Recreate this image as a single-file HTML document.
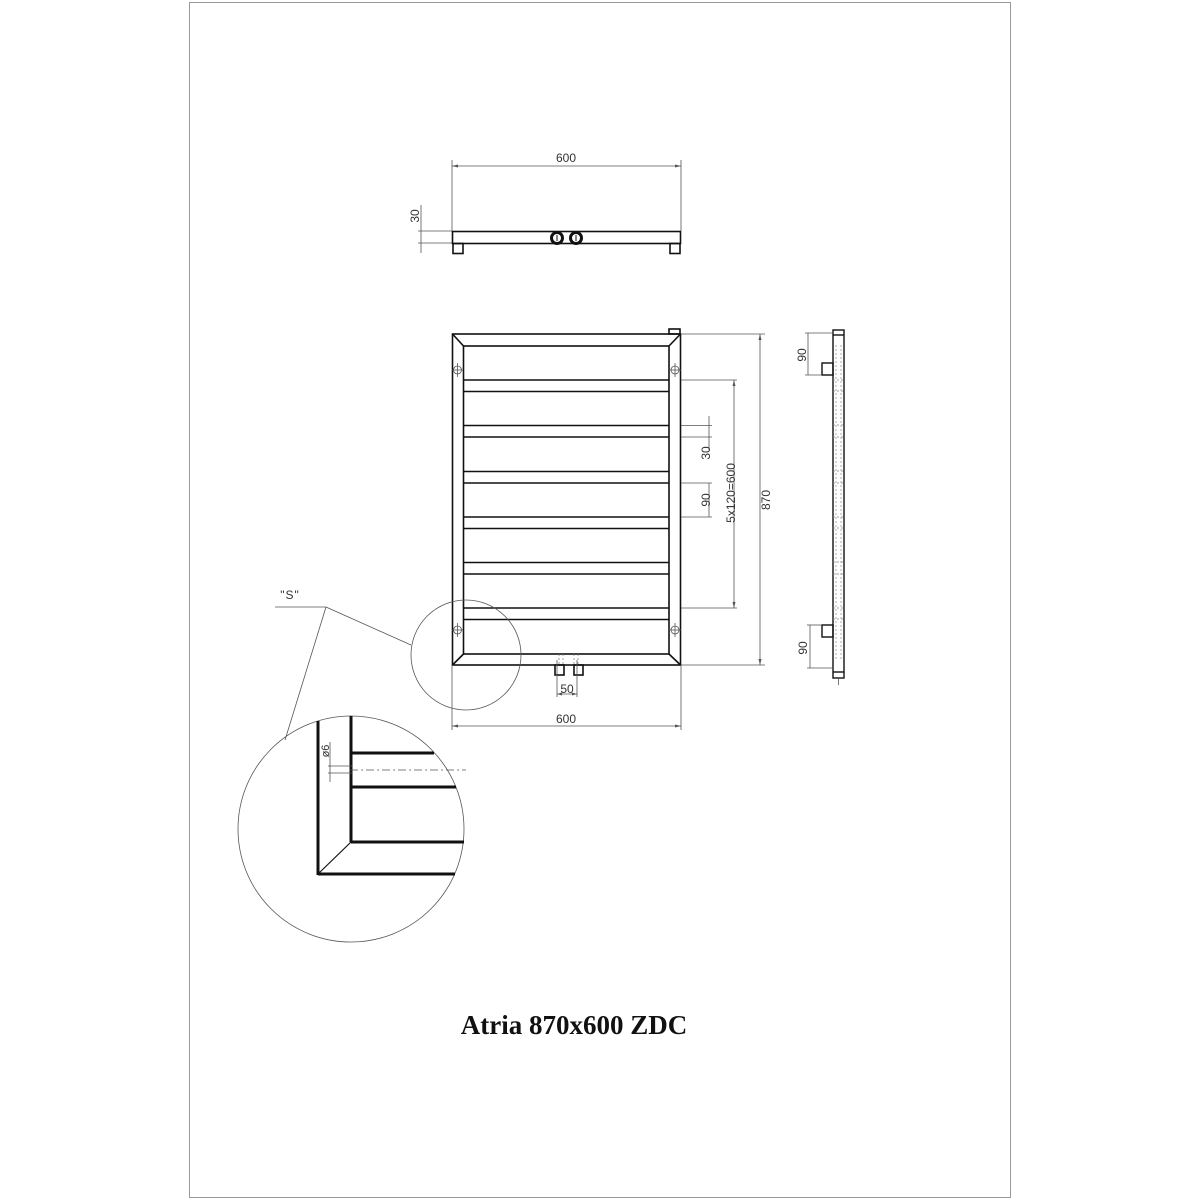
<!DOCTYPE html>
<html><head><meta charset="utf-8"><style>
html,body{margin:0;padding:0;background:#fff;}
svg{display:block;}
text{font-family:"Liberation Sans",sans-serif;fill:#333;}
</style></head><body>
<svg width="1200" height="1200" viewBox="0 0 1200 1200" xmlns="http://www.w3.org/2000/svg">
<rect x="189.5" y="2.5" width="821" height="1195" fill="none" stroke="#999" stroke-width="1"/>

<g stroke="#555" stroke-width="0.8" fill="none">
<line x1="452" y1="160" x2="452" y2="231"/>
<line x1="681" y1="160" x2="681" y2="231"/>
<line x1="452" y1="166" x2="681" y2="166"/>
<line x1="418" y1="231" x2="452" y2="231"/>
<line x1="418" y1="243" x2="452" y2="243"/>
<line x1="421" y1="205" x2="421" y2="253"/>
</g>
<path d="M452,166 l6,-1.5 v3z M681,166 l-6,-1.5 v3z" fill="#555"/>
<text x="566" y="162" font-size="12" text-anchor="middle">600</text>
<text transform="translate(419,216) rotate(-90)" font-size="12" text-anchor="middle">30</text>
<g stroke="#111" stroke-width="1.6" fill="none">
<rect x="452.5" y="231.5" width="228" height="12"/>
<rect x="453" y="243.5" width="10" height="10"/>
<rect x="670" y="243.5" width="10" height="10"/>
</g>
<circle cx="557" cy="238" r="5.5" fill="none" stroke="#111" stroke-width="3"/>
<circle cx="576" cy="238" r="5.5" fill="none" stroke="#111" stroke-width="3"/>
<line x1="557" y1="235" x2="557" y2="241" stroke="#111" stroke-width="1"/>
<line x1="576" y1="235" x2="576" y2="241" stroke="#111" stroke-width="1"/>

<g stroke="#111" stroke-width="1.6" fill="none">
<rect x="452.5" y="334" width="228" height="331"/>
<rect x="463.5" y="346" width="205.5" height="308"/>
<line x1="452.5" y1="334" x2="463.5" y2="346"/>
<line x1="680.5" y1="334" x2="669" y2="346"/>
<line x1="452.5" y1="665" x2="463.5" y2="654"/>
<line x1="680.5" y1="665" x2="669" y2="654"/>
<rect x="669" y="329" width="11" height="5"/>
<line x1="464" y1="380" x2="669" y2="380"/><line x1="464" y1="391.5" x2="669" y2="391.5"/>
<line x1="464" y1="425.5" x2="669" y2="425.5"/><line x1="464" y1="437" x2="669" y2="437"/>
<line x1="464" y1="471.5" x2="669" y2="471.5"/><line x1="464" y1="483" x2="669" y2="483"/>
<line x1="464" y1="517" x2="669" y2="517"/><line x1="464" y1="528.5" x2="669" y2="528.5"/>
<line x1="464" y1="562.5" x2="669" y2="562.5"/><line x1="464" y1="574" x2="669" y2="574"/>
<line x1="464" y1="608" x2="669" y2="608"/><line x1="464" y1="619.5" x2="669" y2="619.5"/>
<rect x="555" y="665" width="9" height="10"/>
<rect x="574" y="665" width="9" height="10"/>
</g>
<g stroke="#555" stroke-width="0.8" fill="none">
<circle cx="457.5" cy="370" r="4"/><line x1="452" y1="370" x2="463" y2="370"/><line x1="457.5" y1="363" x2="457.5" y2="377"/>
<circle cx="675" cy="370" r="4"/><line x1="669" y1="370" x2="681" y2="370"/><line x1="675" y1="363" x2="675" y2="377"/>
<circle cx="457.5" cy="630" r="4"/><line x1="452" y1="630" x2="463" y2="630"/><line x1="457.5" y1="623" x2="457.5" y2="637"/>
<circle cx="675" cy="630" r="4"/><line x1="669" y1="630" x2="681" y2="630"/><line x1="675" y1="623" x2="675" y2="637"/>
<line x1="681" y1="334" x2="765" y2="334"/>
<line x1="681" y1="665" x2="765" y2="665"/>
<line x1="760" y1="334" x2="760" y2="665"/>
<line x1="681" y1="380" x2="737" y2="380"/>
<line x1="681" y1="608" x2="737" y2="608"/>
<line x1="734" y1="380" x2="734" y2="608"/>
<line x1="681" y1="425.5" x2="712" y2="425.5"/>
<line x1="681" y1="437" x2="712" y2="437"/>
<line x1="709" y1="416" x2="709" y2="450"/>
<line x1="681" y1="483" x2="712" y2="483"/>
<line x1="681" y1="517" x2="712" y2="517"/>
<line x1="709" y1="483" x2="709" y2="517"/>
<line x1="557" y1="660" x2="557" y2="697"/>
<line x1="577" y1="660" x2="577" y2="697"/>
<line x1="557" y1="694" x2="577" y2="694"/>
<line x1="452" y1="665" x2="452" y2="730"/>
<line x1="681" y1="665" x2="681" y2="730"/>
<line x1="452" y1="726" x2="681" y2="726"/>
<circle cx="466" cy="655" r="55"/>
<line x1="275" y1="607" x2="326" y2="607"/>
<line x1="326" y1="607" x2="411" y2="645"/>
<line x1="326" y1="607" x2="285" y2="740"/>
<circle cx="351" cy="829" r="113"/>
</g>
<g stroke="#777" stroke-width="0.7" stroke-dasharray="2,2">
<line x1="559" y1="654" x2="559" y2="665"/><line x1="563" y1="654" x2="563" y2="665"/>
<line x1="574" y1="654" x2="574" y2="665"/><line x1="578" y1="654" x2="578" y2="665"/>
</g>
<path d="M760,334 l-1.5,6 h3z M760,665 l-1.5,-6 h3z M734,380 l-1.5,6 h3z M734,608 l-1.5,-6 h3z M452,726 l6,-1.5 v3z M681,726 l-6,-1.5 v3z M557,694 l5,-1.5 v3z M577,694 l-5,-1.5 v3z" fill="#555"/>
<text transform="translate(770,500) rotate(-90)" font-size="12" text-anchor="middle">870</text>
<text transform="translate(735,493) rotate(-90)" font-size="12" text-anchor="middle">5x120=600</text>
<text transform="translate(710,453) rotate(-90)" font-size="12" text-anchor="middle">30</text>
<text transform="translate(710,500) rotate(-90)" font-size="12" text-anchor="middle">90</text>
<text x="567" y="693" font-size="12" text-anchor="middle">50</text>
<text x="566" y="723" font-size="12" text-anchor="middle">600</text>
<text x="290" y="599" font-size="12" letter-spacing="1" text-anchor="middle">&quot;S&quot;</text>

<g stroke="#111" stroke-width="3" fill="none">
<line x1="318" y1="721" x2="318" y2="875"/>
<line x1="318" y1="874" x2="455" y2="874"/>
<line x1="351" y1="716" x2="351" y2="842"/>
<line x1="351" y1="842" x2="464" y2="842"/>
<line x1="351" y1="753" x2="434" y2="753"/>
<line x1="351" y1="787" x2="456" y2="787"/>
</g>
<line x1="318" y1="874" x2="351" y2="842" stroke="#111" stroke-width="1.2"/>
<line x1="350" y1="770" x2="466" y2="770" stroke="#555" stroke-width="0.8" stroke-dasharray="8,3,2,3"/>
<g stroke="#555" stroke-width="0.8">
<line x1="328" y1="766" x2="352" y2="766"/>
<line x1="328" y1="773" x2="352" y2="773"/>
<line x1="330" y1="742" x2="330" y2="782"/>
</g>
<text transform="translate(329,751) rotate(-90)" font-size="11" text-anchor="middle">ø6</text>

<g stroke="#111" stroke-width="1.4" fill="none">
<rect x="833" y="330" width="11" height="348"/>
<line x1="833" y1="335" x2="844" y2="335"/>
<line x1="833" y1="672" x2="844" y2="672"/>
<rect x="822" y="363" width="11" height="12"/>
<rect x="822" y="625" width="11" height="12"/>
</g>
<g stroke="#888" stroke-width="0.7" stroke-dasharray="2,2">
<line x1="836" y1="345" x2="836" y2="660"/>
<line x1="841" y1="345" x2="841" y2="660"/>
<line x1="833" y1="380" x2="844" y2="380"/><line x1="833" y1="391" x2="844" y2="391"/>
<line x1="833" y1="425" x2="844" y2="425"/><line x1="833" y1="437" x2="844" y2="437"/>
<line x1="833" y1="471" x2="844" y2="471"/><line x1="833" y1="483" x2="844" y2="483"/>
<line x1="833" y1="517" x2="844" y2="517"/><line x1="833" y1="528" x2="844" y2="528"/>
<line x1="833" y1="562" x2="844" y2="562"/><line x1="833" y1="574" x2="844" y2="574"/>
<line x1="833" y1="608" x2="844" y2="608"/><line x1="833" y1="619" x2="844" y2="619"/>
</g>
<g stroke="#555" stroke-width="0.8">
<line x1="805" y1="333" x2="833" y2="333"/>
<line x1="805" y1="375" x2="822" y2="375"/>
<line x1="808" y1="333" x2="808" y2="375"/>
<line x1="807" y1="625" x2="822" y2="625"/>
<line x1="807" y1="668" x2="833" y2="668"/>
<line x1="810" y1="625" x2="810" y2="668"/>
<line x1="838.5" y1="678" x2="838.5" y2="685"/>
</g>
<text transform="translate(806,355) rotate(-90)" font-size="12" text-anchor="middle">90</text>
<text transform="translate(807,648) rotate(-90)" font-size="12" text-anchor="middle">90</text>

<text x="574" y="1034" font-weight="bold" font-size="27" text-anchor="middle" style="font-family:'Liberation Serif',serif;fill:#111">Atria 870x600 ZDC</text>
</svg>
</body></html>
